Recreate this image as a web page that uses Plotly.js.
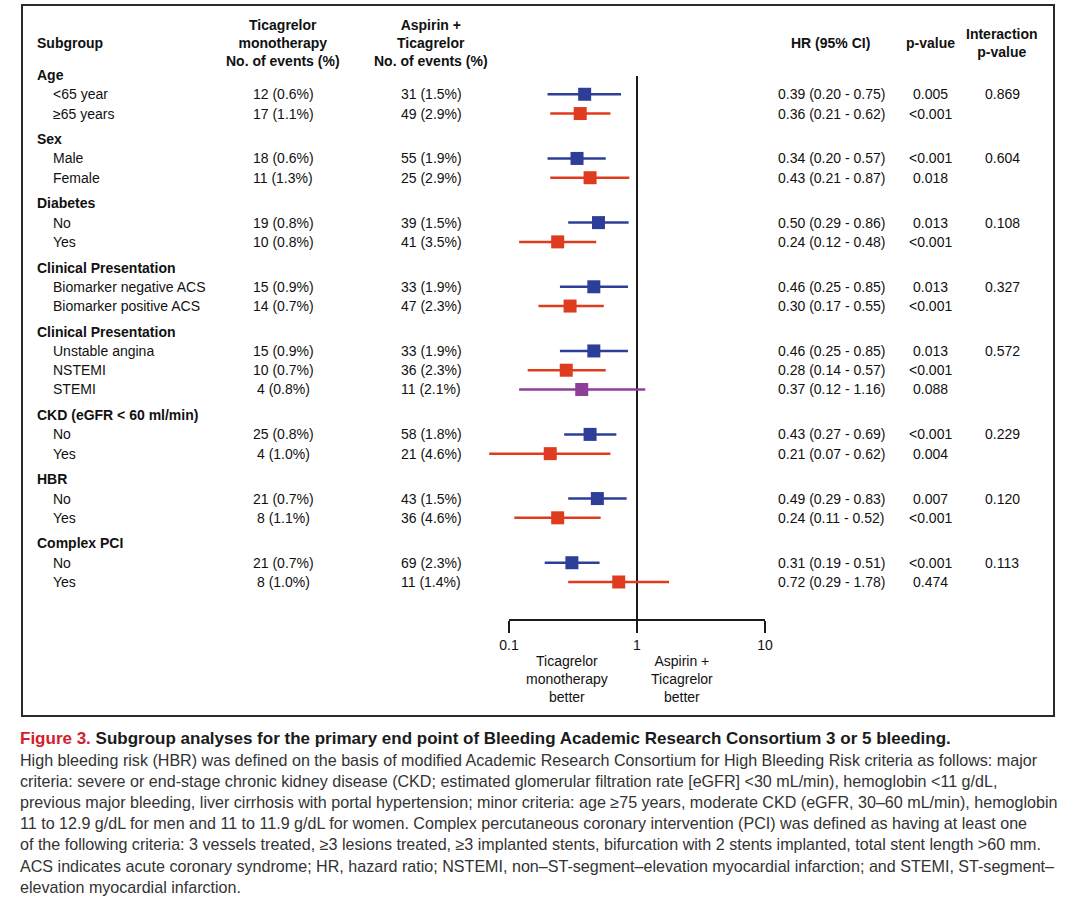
<!DOCTYPE html>
<html>
<head>
<meta charset="utf-8">
<script src="https://cdn.plot.ly/plotly-3.0.1.min.js"></script>
<style>html,body{margin:0;padding:0;background:#fff}#chart{width:1080px;height:898px}</style>
</head>
<body>
<div id="chart"></div>
<script>
// ---------------- data ----------------
var groupNames = ['Age', 'Sex', 'Diabetes', 'Clinical Presentation', 'Clinical Presentation',
  'CKD (eGFR < 60 ml/min)', 'HBR', 'Complex PCI'];
var groupSizes = [2, 2, 2, 2, 3, 2, 2, 2];
var interactionP = ['0.869', '0.604', '0.108', '0.327', '0.572', '0.229', '0.120', '0.113'];

var itemLabels = ['<65 year', '≥65 years', 'Male', 'Female', 'No', 'Yes',
  'Biomarker negative ACS', 'Biomarker positive ACS', 'Unstable angina', 'NSTEMI', 'STEMI',
  'No', 'Yes', 'No', 'Yes', 'No', 'Yes'];
var ticaEvents = ['12 (0.6%)', '17 (1.1%)', '18 (0.6%)', '11 (1.3%)', '19 (0.8%)', '10 (0.8%)',
  '15 (0.9%)', '14 (0.7%)', '15 (0.9%)', '10 (0.7%)', '4 (0.8%)', '25 (0.8%)', '4 (1.0%)',
  '21 (0.7%)', '8 (1.1%)', '21 (0.7%)', '8 (1.0%)'];
var aspEvents = ['31 (1.5%)', '49 (2.9%)', '55 (1.9%)', '25 (2.9%)', '39 (1.5%)', '41 (3.5%)',
  '33 (1.9%)', '47 (2.3%)', '33 (1.9%)', '36 (2.3%)', '11 (2.1%)', '58 (1.8%)', '21 (4.6%)',
  '43 (1.5%)', '36 (4.6%)', '69 (2.3%)', '11 (1.4%)'];
var hr = [0.39, 0.36, 0.34, 0.43, 0.50, 0.24, 0.46, 0.30, 0.46, 0.28, 0.37, 0.43, 0.21, 0.49, 0.24, 0.31, 0.72];
var ciLow = [0.20, 0.21, 0.20, 0.21, 0.29, 0.12, 0.25, 0.17, 0.25, 0.14, 0.12, 0.27, 0.07, 0.29, 0.11, 0.19, 0.29];
var ciHigh = [0.75, 0.62, 0.57, 0.87, 0.86, 0.48, 0.85, 0.55, 0.85, 0.57, 1.16, 0.69, 0.62, 0.83, 0.52, 0.51, 1.78];
var pValues = ['0.005', '<0.001', '<0.001', '0.018', '0.013', '<0.001', '0.013', '<0.001', '0.013',
  '<0.001', '0.088', '<0.001', '0.004', '0.007', '<0.001', '<0.001', '0.474'];
var axisTicks = [0.1, 1, 10];
var axisTickText = ['0.1', '1', '10'];

var captionTitle = 'Subgroup analyses for the primary end point of Bleeding Academic Research Consortium 3 or 5 bleeding.';
var captionLines = [
  'High bleeding risk (HBR) was defined on the basis of modified Academic Research Consortium for High Bleeding Risk criteria as follows: major',
  'criteria: severe or end-stage chronic kidney disease (CKD; estimated glomerular filtration rate [eGFR] <30 mL/min), hemoglobin <11 g/dL,',
  'previous major bleeding, liver cirrhosis with portal hypertension; minor criteria: age ≥75 years, moderate CKD (eGFR, 30–60 mL/min), hemoglobin',
  '11 to 12.9 g/dL for men and 11 to 11.9 g/dL for women. Complex percutaneous coronary intervention (PCI) was defined as having at least one',
  'of the following criteria: 3 vessels treated, ≥3 lesions treated, ≥3 implanted stents, bifurcation with 2 stents implanted, total stent length >60 mm.',
  'ACS indicates acute coronary syndrome; HR, hazard ratio; NSTEMI, non–ST-segment–elevation myocardial infarction; and STEMI, ST-segment–',
  'elevation myocardial infarction.'
];

// ---------------- layout helpers ----------------
var W = 1080, H = 898;
var FONT = '"Liberation Sans", Arial, Helvetica, sans-serif';
var CAPFONT = FONT;
var seriesColors = ['#2c3e98', '#de3b1f', '#8e3f98'];
function px(x) { return x / W; }
function py(y) { return 1 - y / H; }

// row positions (row units)
var headerStep = 1.33, itemStep = 1;
var groupY = [], itemY = [], itemColorIdx = [], itemGroup = [];
var cur = 0;
for (var g = 0; g < groupNames.length; g++) {
  if (g > 0) cur += headerStep;
  groupY.push(cur);
  for (var j = 0; j < groupSizes[g]; j++) {
    cur += itemStep;
    itemY.push(cur);
    itemColorIdx.push(j);
    itemGroup.push(g);
  }
}
var rowPx0 = 75, rowUnit = 19.27;
var yRange = [(H - rowPx0) / rowUnit, -rowPx0 / rowUnit];
function rowToPaper(r) { return py(rowPx0 + r * rowUnit); }

// ---------------- traces ----------------
var traces = [];
for (var c = 0; c < seriesColors.length; c++) {
  var lx = [], ly = [], mx = [], my = [];
  for (var i = 0; i < hr.length; i++) {
    if (itemColorIdx[i] !== c) continue;
    lx.push(ciLow[i], ciHigh[i], null);
    ly.push(itemY[i], itemY[i], null);
    mx.push(hr[i]); my.push(itemY[i]);
  }
  traces.push({type: 'scatter', mode: 'lines', x: lx, y: ly, hoverinfo: 'skip',
    line: {color: seriesColors[c], width: 2.5}, cliponaxis: false});
  traces.push({type: 'scatter', mode: 'markers', x: mx, y: my,
    marker: {symbol: 'square', size: 13, color: seriesColors[c], line: {width: 0}}, cliponaxis: false});
}

// ---------------- annotations ----------------
var ann = [];
function txt(x, y, t, opts) {
  opts = opts || {};
  ann.push({xref: 'paper', yref: 'paper', x: x, y: y, text: t, showarrow: false,
    xanchor: opts.xanchor || 'center', yanchor: opts.yanchor || 'middle',
    align: opts.align || 'center',
    font: {family: opts.family || FONT, size: opts.size || 14, color: opts.color || '#111'}});
}
// headers
txt(px(35), py(43), '<b>Subgroup</b>', {xanchor: 'left'});
txt(px(283), py(43), '<b>Ticagrelor<br>monotherapy<br>No. of events (%)</b>');
txt(px(431), py(43), '<b>Aspirin +<br>Ticagrelor<br>No. of events (%)</b>');
txt(px(830), py(43), '<b>HR (95% CI)</b>');
txt(px(930), py(43), '<b>p-value</b>');
txt(px(1002), py(43), '<b>Interaction<br>p-value</b>');

for (var g2 = 0; g2 < groupNames.length; g2++) {
  txt(px(35), rowToPaper(groupY[g2]), '<b>' + groupNames[g2].replace(/</g, '&lt;') + '</b>', {xanchor: 'left'});
}
for (var i2 = 0; i2 < itemLabels.length; i2++) {
  var yy = rowToPaper(itemY[i2]);
  txt(px(51), yy, itemLabels[i2].replace(/</g, '&lt;'), {xanchor: 'left'});
  txt(px(283), yy, ticaEvents[i2]);
  txt(px(431), yy, aspEvents[i2]);
  txt(px(831), yy, hr[i2].toFixed(2) + ' (' + ciLow[i2].toFixed(2) + ' - ' + ciHigh[i2].toFixed(2) + ')');
  txt(px(930), yy, pValues[i2].replace(/</g, '&lt;'));
  if (itemColorIdx[i2] === 0) txt(px(1002), yy, interactionP[itemGroup[i2]]);
}
// axis direction labels
txt(px(567), py(651), 'Ticagrelor<br>monotherapy<br>better', {yanchor: 'top'});
txt(px(682), py(651), 'Aspirin +<br>Ticagrelor<br>better', {yanchor: 'top'});

// caption
txt(px(18), py(738), '<b><span style="color:#d2202e">Figure 3.</span> ' + captionTitle + '</b>',
  {xanchor: 'left', align: 'left', size: 17, family: CAPFONT, color: '#1b1b1b'});
for (var l = 0; l < captionLines.length; l++) {
  txt(px(18), py(760 + l * 21.1), captionLines[l].replace(/</g, '&lt;').replace(/>/g, '&gt;'),
    {xanchor: 'left', align: 'left', size: 16.1, family: CAPFONT, color: '#333'});
}

// ---------------- axes & shapes ----------------
var axisPos = py(620);
var shapes = [
  {type: 'rect', xref: 'paper', yref: 'paper', x0: px(22), x1: px(1054), y0: py(5), y1: py(716),
    line: {color: '#2a2a2a', width: 2}, fillcolor: 'rgba(0,0,0,0)', layer: 'below'},
  {type: 'line', xref: 'x', yref: 'paper', x0: axisTicks[0], x1: axisTicks[axisTicks.length - 1],
    y0: axisPos, y1: axisPos, line: {color: '#1a1a1a', width: 1.8}},
  {type: 'line', xref: 'x', yref: 'paper', x0: 1, x1: 1, y0: axisPos, y1: py(76),
    line: {color: '#1a1a1a', width: 2}, layer: 'below'}
];
var xlo = Math.log10(axisTicks[0]) - 509 / 128;
var xhi = Math.log10(axisTicks[axisTicks.length - 1]) + (W - 765) / 128;

var layout = {
  width: W, height: H,
  margin: {l: 0, r: 0, t: 0, b: 0, pad: 0},
  paper_bgcolor: '#fff', plot_bgcolor: 'rgba(0,0,0,0)',
  showlegend: false,
  xaxis: {type: 'log', range: [xlo, xhi], domain: [0, 1], anchor: 'free', position: axisPos,
    showgrid: false, zeroline: false, showline: false,
    tickmode: 'array', tickvals: axisTicks, ticktext: axisTickText,
    ticks: 'outside', ticklen: 12, tickwidth: 1.8, tickcolor: '#1a1a1a',
    tickfont: {family: FONT, size: 14, color: '#111'}, fixedrange: true},
  yaxis: {range: yRange, domain: [0, 1], visible: false, fixedrange: true},
  shapes: shapes,
  annotations: ann
};
Plotly.newPlot('chart', traces, layout, {displayModeBar: false, staticPlot: true});
</script>
</body>
</html>
